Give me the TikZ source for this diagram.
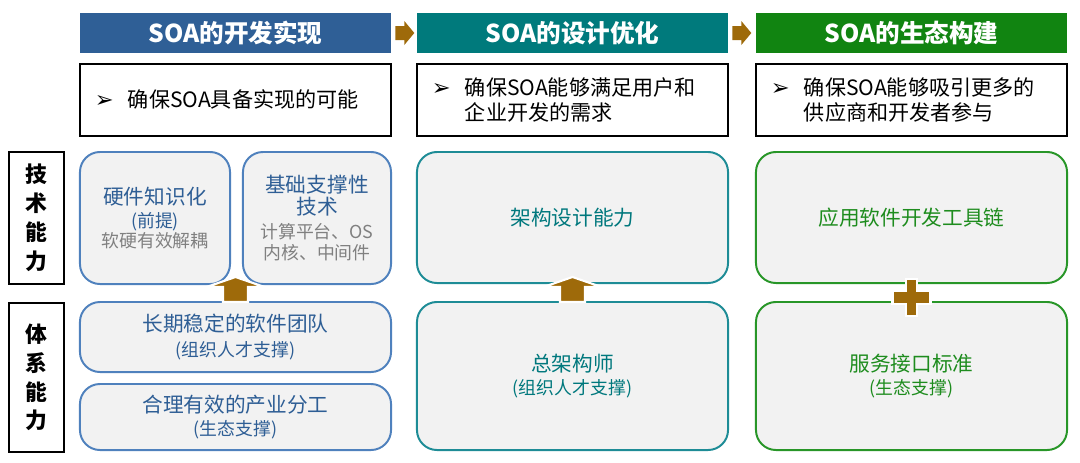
\documentclass[tikz,border=0pt]{standalone}
\usepackage{fontspec}
\setmainfont{Noto Sans CJK SC}
\newfontfamily\symfont{DejaVu Sans}
\usetikzlibrary{positioning,calc}

\definecolor{hdrblue}{RGB}{47,95,150}
\definecolor{hdrteal}{RGB}{0,122,124}
\definecolor{hdrgreen}{RGB}{17,132,17}
\definecolor{arrbrown}{RGB}{158,106,10}
\definecolor{boxgray}{RGB}{242,242,242}
\definecolor{bluedge}{RGB}{79,129,189}
\definecolor{tealedge}{RGB}{30,140,150}
\definecolor{greenedge}{RGB}{40,150,40}
\definecolor{bluetxt}{RGB}{46,94,149}
\definecolor{tealtxt}{RGB}{0,120,125}
\definecolor{greentxt}{RGB}{30,140,30}
\definecolor{notegray}{RGB}{128,128,128}

\newcommand{\graytxt}[1]{{\color{notegray}\fontsize{12.7}{14.5}\selectfont #1}}
\newcommand{\subtxt}[1]{{\fontsize{12.7}{14.5}\selectfont #1}}
\newcommand{\bullettxt}{\makebox[0.825cm][l]{\symfont\fontsize{16}{18}\selectfont ➢}}

\begin{document}
\begin{tikzpicture}[x=0.025cm,y=-0.025cm,
  hdr/.style={minimum width=7.775cm,minimum height=1cm,inner sep=0pt,text=white,font=\fontsize{17.5}{20}\selectfont\bfseries},
  goal/.style={draw=black,line width=0.9pt,fill=white,minimum width=7.775cm,minimum height=1.8cm,inner xsep=0.375cm,text width=7.025cm,align=left,font=\fontsize{15}{17.7}\selectfont},
  side/.style={draw=black,line width=1.4pt,minimum width=1.375cm,inner sep=0pt,align=center,font=\fontsize{15.5}{20.5}\selectfont\bfseries},
  ablock/.style={rounded corners=0.5cm,fill=boxgray,line width=1.4pt,inner sep=0pt,align=center,font=\fontsize{14.7}{16.3}\selectfont},
  upblock/.style={fill=arrbrown,draw=white,line width=1.5pt},
]
\useasboundingbox (0,0) rectangle (1080,462);

%---------------------Headers------------------%
\node[hdr,fill=hdrblue] (hdrDev) at (235.5,33) {SOA的开发实现};
\node[hdr,fill=hdrteal] (hdrDes) at (572.5,33) {SOA的设计优化};
\node[hdr,fill=hdrgreen] (hdrEco) at (911.5,33) {SOA的生态构建};

\filldraw[fill=arrbrown,draw=none] ($(hdrDev.east)+(4,-7)$) -- ++(9,0) -- ++(0,-5) -- ++(10,12) -- ++(-10,12) -- ++(0,-5) -- ++(-9,0) -- cycle;
\filldraw[fill=arrbrown,draw=none] ($(hdrDes.east)+(4,-7)$) -- ++(9,0) -- ++(0,-5) -- ++(10,12) -- ++(-10,12) -- ++(0,-5) -- ++(-9,0) -- cycle;
%----------------------------------------------%

%---------------------Goals------------------%
\node[goal,below=0.25cm of hdrDev] (goalDev) {\bullettxt 确保SOA具备实现的可能};
\node[goal,below=0.25cm of hdrDes] (goalDes) {\bullettxt 确保SOA能够满足用户和\\\hspace*{0.825cm}企业开发的需求};
\node[goal,below=0.25cm of hdrEco] (goalEco) {\bullettxt 确保SOA能够吸引更多的\\\hspace*{0.825cm}供应商和开发者参与};
%----------------------------------------------%

%---------------------Side Labels------------------%
\node[side,minimum height=3.3cm] (sideTech) at (36.5,218) {技\\术\\能\\力};
\node[side,minimum height=3.725cm] (sideSys) at (36.5,377.5) {体\\系\\能\\力};
%----------------------------------------------%

%---------------------Column 1------------------%
\node[ablock,draw=bluedge,text=bluetxt,minimum width=3.75cm,minimum height=3.3cm] (hwKnow) at (155,218)
  {硬件知识化\\\subtxt{(前提)}\\[-2.1pt]\graytxt{软硬有效解耦}};
\node[ablock,draw=bluedge,text=bluetxt,minimum width=3.7cm,minimum height=3.3cm] (baseTech) at (317,218)
  {基础支撑性\\技术\\[0.7pt]\graytxt{计算平台、OS}\\[-1.4pt]\graytxt{内核、中间件}};
\node[ablock,draw=bluedge,text=bluetxt,minimum width=7.775cm,minimum height=1.75cm] (team) at (235.5,337)
  {长期稳定的软件团队\\[1.4pt]\subtxt{(组织人才支撑)}};
\node[ablock,draw=bluedge,text=bluetxt,minimum width=7.775cm,minimum height=1.65cm] (division) at (235.5,417)
  {合理有效的产业分工\\\subtxt{(生态支撑)}};

\filldraw[upblock] ($(team.north)+(-12.5,1)$) -- ($(team.north)+(-12.5,-14)$) -- ($(team.north)+(-29,-14)$) -- ($(team.north)+(0,-24)$) -- ($(team.north)+(29,-14)$) -- ($(team.north)+(12.5,-14)$) -- ($(team.north)+(12.5,1)$) -- cycle;
%----------------------------------------------%

%---------------------Column 2------------------%
\node[ablock,draw=tealedge,text=tealtxt,minimum width=7.775cm,minimum height=3.275cm] (archAbility) at (572.5,217.5) {架构设计能力};
\node[ablock,draw=tealedge,text=tealtxt,minimum width=7.775cm,minimum height=3.7cm] (chiefArch) at (572.5,376)
  {总架构师\\\subtxt{(组织人才支撑)}};

\filldraw[upblock] ($(chiefArch.north)+(-12.5,1)$) -- ($(chiefArch.north)+(-12.5,-14)$) -- ($(chiefArch.north)+(-29,-14)$) -- ($(chiefArch.north)+(0,-24)$) -- ($(chiefArch.north)+(29,-14)$) -- ($(chiefArch.north)+(12.5,-14)$) -- ($(chiefArch.north)+(12.5,1)$) -- cycle;
%----------------------------------------------%

%---------------------Column 3------------------%
\node[ablock,draw=greenedge,text=greentxt,minimum width=7.775cm,minimum height=3.275cm] (toolChain) at (911.5,217.5) {应用软件开发工具链};
\node[ablock,draw=greenedge,text=greentxt,minimum width=7.775cm,minimum height=3.7cm] (ifaceStd) at (911.5,376)
  {服务接口标准\\\subtxt{(生态支撑)}};

\filldraw[upblock] ($(ifaceStd.north)+(-5.5,-22)$) -- ++(11,0) -- ++(0,12) -- ++(13.5,0) -- ++(0,13) -- ++(-13.5,0) -- ++(0,12) -- ++(-11,0) -- ++(0,-12) -- ++(-13.5,0) -- ++(0,-13) -- ++(13.5,0) -- cycle;
%----------------------------------------------%
\end{tikzpicture}
\end{document}
